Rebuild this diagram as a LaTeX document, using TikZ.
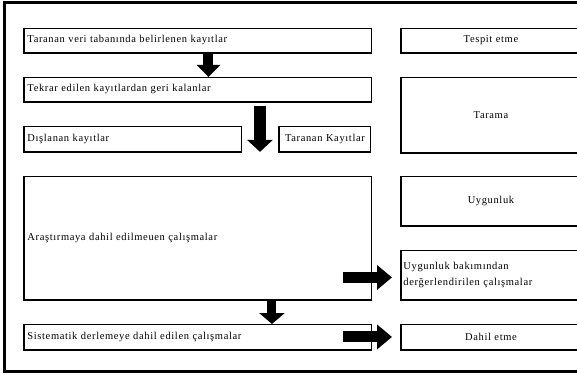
\documentclass[tikz,border=0pt]{standalone}
\usepackage{fontspec}
\setmainfont{Liberation Serif}[LetterSpace=6]
\usetikzlibrary{arrows.meta}
\begin{document}
\begin{tikzpicture}[x=1pt,y=-1pt,
  box/.style={draw, line width=0.9pt, inner xsep=3pt, inner ysep=0pt, anchor=north west,
              font=\fontsize{10.5}{16}\selectfont},
  lbox/.style={box, align=left},
  cbox/.style={box, align=center},
  edge/.style={line width=1.9pt},
  barrow/.style={line width=#1},
]
\useasboundingbox (0,0) rectangle (577,374);
\clip (0,0) rectangle (577,374);
% frame
\draw[line width=2.5pt] (4.5,2.5) rectangle (600,371.5);
% left column
\node[lbox, text width=341pt, minimum height=24pt] (b1) at (24,28) {Taranan veri tabanında belirlenen kayıtlar};
\node[lbox, text width=341pt, minimum height=24pt] (b2) at (24,77) {Tekrar edilen kayıtlardan geri kalanlar};
\node[lbox, text width=211pt, minimum height=25pt] (b3) at (24,126) {Dışlanan kayıtlar};
\node[cbox, text width=85pt, minimum height=25pt] (b4) at (279,126) {Taranan Kayıtlar};
\node[lbox, text width=341pt, minimum height=123pt] (b5) at (24,176) {Araştırmaya dahil edilmeuen çalışmalar};
\node[lbox, text width=341pt, minimum height=25pt] (b6) at (24,324) {Sistematik derlemeye dahil edilen çalışmalar};
% right column
\node[cbox, text width=173pt, minimum height=24pt] (r1) at (401,28) {Tespit etme};
\node[cbox, text width=173pt, minimum height=75pt] (r2) at (401,77) {Tarama};
\node[cbox, text width=173pt, minimum height=49pt] (r3) at (401,176) {Uygunluk};
\node[lbox, inner xsep=2pt, text width=175pt, minimum height=49pt] (r4) at (401,250) {Uygunluk bakımından\\derğerlendirilen çalışmalar};
\node[cbox, text width=173pt, minimum height=25pt] (r5) at (401,324) {Dahil etme};
% heavier left and bottom edges
\foreach \n in {b1,b2,b3,b4,b5,b6,r1,r2,r3,r4,r5}
  \draw[edge] (\n.north west) -- (\n.south west) -- (\n.south east);
% block arrows
\path (b1.south) ++(10.5,0) coordinate (a1s);
\draw[barrow=10pt, -{Triangle[length=12pt 0 0, width=23pt 0 0]}] (a1s) -- (a1s |- b2.north);
\path (b2.south) ++(62,4) coordinate (a2s);
\draw[barrow=12pt, -{Triangle[length=12pt 0 0, width=25pt 0 0]}] (a2s) -- (a2s |- b3.south);
\path (b5.south) ++(74,0) coordinate (a3s);
\draw[barrow=9pt, -{Triangle[length=11pt 0 0, width=25pt 0 0]}] (a3s) -- (a3s |- b6.north);
\path (r4.west) ++(-58,2.5) coordinate (a4s);
\path (r4.west) ++(-9,2.5) coordinate (a4e);
\draw[barrow=11pt, -{Triangle[length=15pt 0 0, width=24pt 0 0]}] (a4s) -- (a4e);
\path (r5.west) ++(-58,0) coordinate (a5s);
\path (r5.west) ++(-9,0) coordinate (a5e);
\draw[barrow=11pt, -{Triangle[length=15pt 0 0, width=24pt 0 0]}] (a5s) -- (a5e);
\end{tikzpicture}
\end{document}
